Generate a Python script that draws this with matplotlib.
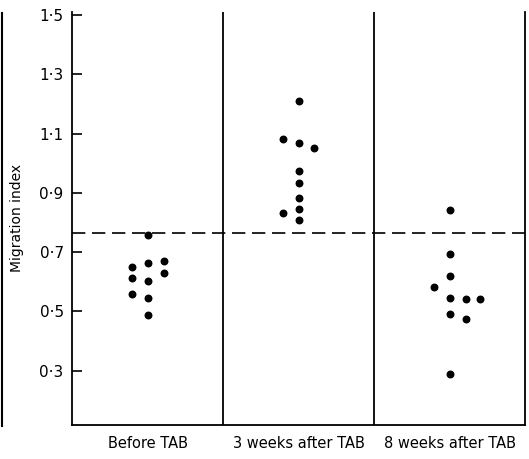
import matplotlib.pyplot as plt
import numpy as np
from matplotlib.lines import Line2D

groups = ['Before TAB', '3 weeks after TAB', '8 weeks after TAB']

# x offsets inside each column, and migration index values
before_dx = [-0.1, -0.1, -0.1, 0, 0, 0, 0, 0, 0.11, 0.11]
before_val = [0.651, 0.612, 0.559, 0.758, 0.663, 0.603, 0.545, 0.488, 0.671, 0.629]

wk3_dx = [-0.1, -0.1, 0, 0, 0, 0, 0, 0, 0, 0.1]
wk3_val = [1.081, 0.831, 1.211, 1.068, 0.974, 0.932, 0.882, 0.845, 0.809, 1.050]

wk8_dx = [-0.1, 0, 0, 0, 0, 0, 0, 0.11, 0.11, 0.2]
wk8_val = [0.582, 0.841, 0.693, 0.620, 0.547, 0.492, 0.288, 0.541, 0.476, 0.542]

cutoff = 0.766
yticks = [0.3, 0.5, 0.7, 0.9, 1.1, 1.3, 1.5]

fig = plt.figure(figsize=(5.29, 4.59), dpi=100)
ax = fig.add_axes([72 / 529, 1 - 425 / 459, (525 - 72) / 529, (425 - 12) / 459])

for i, (dx, val) in enumerate([(before_dx, before_val), (wk3_dx, wk3_val), (wk8_dx, wk8_val)]):
    ax.scatter(i + np.array(dx), val, s=22, color='black', zorder=3)

ax.axhline(cutoff, color='black', lw=1.2, ls=(0, (8, 4)))
for xv in [0.5, 1.5]:
    ax.axvline(xv, color='black', lw=1.3)

ax.set_xlim(-0.5, 2.5)
ax.set_ylim(0.117, 1.51)
ax.spines['top'].set_visible(False)
for s in ['left', 'right', 'bottom']:
    ax.spines[s].set_linewidth(1.3)

ax.set_yticks(yticks)
ax.set_yticklabels([f"{v:.1f}".replace('.', '\u00b7') for v in yticks], fontsize=11)
ax.tick_params(axis='y', direction='in', length=7, width=1.2, pad=6)
ax.set_xticks(range(3))
ax.set_xticklabels(groups, fontsize=10.5)
ax.tick_params(axis='x', length=0, pad=8)

fig.text(17 / 529, 1 - 218 / 459, 'Migration index', rotation=90, fontsize=10,
         ha='center', va='center')

# edge of the neighbouring panel at the left border
fig.add_artist(Line2D([2 / 529, 2 / 529], [1 - 426 / 459, 1 - 13 / 459], color='black', lw=1.5))

fig.savefig('out.png', dpi=100)
